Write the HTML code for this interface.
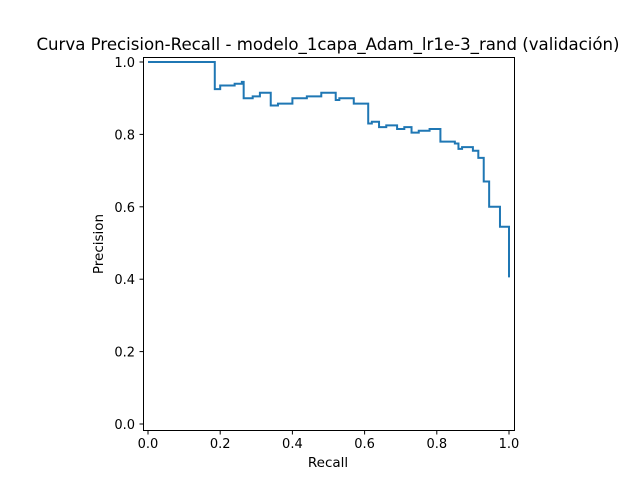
<!DOCTYPE html>
<html><head><meta charset="utf-8"><style>
html,body{margin:0;padding:0;background:#fff;}
svg text{font-family:"DejaVu Sans","Liberation Sans",sans-serif;fill:#000;}
</style></head><body>
<svg id="chart" width="640" height="480" viewBox="0 0 640 480" xmlns="http://www.w3.org/2000/svg">
<rect width="640" height="480" fill="#fff"/>
<text x="328" y="50" font-size="16.6" text-anchor="middle">Curva Precision-Recall - modelo_1capa_Adam_lr1e-3_rand (validación)</text>
<g id="ticks"></g>
<path id="curve" fill="none" stroke="#1f77b4" stroke-width="2"/>
<rect x="143.5" y="57.5" width="371" height="373" fill="none" stroke="#000" stroke-width="1"/>
<text x="328" y="467" font-size="13.5" text-anchor="middle">Recall</text>
<text x="103" y="244" font-size="13.5" text-anchor="middle" transform="rotate(-90 103 244)">Precision</text>
</svg>
<script>
const recallEdges = [0,0.185,0.2,0.24,0.26,0.265,0.29,0.31,0.335,0.34,0.36,0.4,0.44,0.48,0.52,0.53,0.57,0.61,0.62,0.64,0.66,0.69,0.71,0.73,0.75,0.78,0.81,0.85,0.86,0.87,0.90,0.915,0.93,0.945,0.975,0.995,1.0];
const precisionValues = [1.0,0.925,0.935,0.94,0.945,0.90,0.905,0.915,0.915,0.88,0.885,0.90,0.905,0.915,0.895,0.90,0.885,0.83,0.835,0.82,0.825,0.815,0.82,0.805,0.81,0.815,0.78,0.775,0.76,0.765,0.755,0.735,0.67,0.60,0.545,0.545];
const finalPrecision = 0.405;
const xTicks = ["0.0","0.2","0.4","0.6","0.8","1.0"];
const yTicks = ["0.0","0.2","0.4","0.6","0.8","1.0"];
const xS = v => 148 + v * 361;
const yS = v => 424 - v * 362;
const ns = "http://www.w3.org/2000/svg";
let d = "M" + xS(recallEdges[0]) + "," + yS(precisionValues[0]);
for (let i = 0; i < precisionValues.length; i++) {
  d += " L" + xS(recallEdges[i+1]) + "," + yS(precisionValues[i]);
  const next = i + 1 < precisionValues.length ? precisionValues[i+1] : finalPrecision;
  d += " L" + xS(recallEdges[i+1]) + "," + yS(next);
}
document.getElementById("curve").setAttribute("d", d);
const g = document.getElementById("ticks");
xTicks.forEach(t => {
  const x = xS(parseFloat(t));
  const l = document.createElementNS(ns, "line");
  l.setAttribute("x1", x); l.setAttribute("x2", x); l.setAttribute("y1", 430.5); l.setAttribute("y2", 434.5);
  l.setAttribute("stroke", "#000");
  
  
  g.appendChild(l);
  const tx = document.createElementNS(ns, "text");
  tx.setAttribute("x", x); tx.setAttribute("y", 448); tx.setAttribute("font-size", "13"); tx.setAttribute("text-anchor", "middle");
  tx.textContent = t;
  
  
  g.appendChild(tx);
});
yTicks.forEach(t => {
  const y = yS(parseFloat(t));
  const l = document.createElementNS(ns, "line");
  l.setAttribute("x1", 139.5); l.setAttribute("x2", 143.5); l.setAttribute("y1", y); l.setAttribute("y2", y);
  l.setAttribute("stroke", "#000");
  
  
  g.appendChild(l);
  const tx = document.createElementNS(ns, "text");
  tx.setAttribute("x", 135); tx.setAttribute("y", y + 5); tx.setAttribute("font-size", "13"); tx.setAttribute("text-anchor", "end");
  tx.textContent = t;
  
  
  g.appendChild(tx);
});
</script>
</body></html>
